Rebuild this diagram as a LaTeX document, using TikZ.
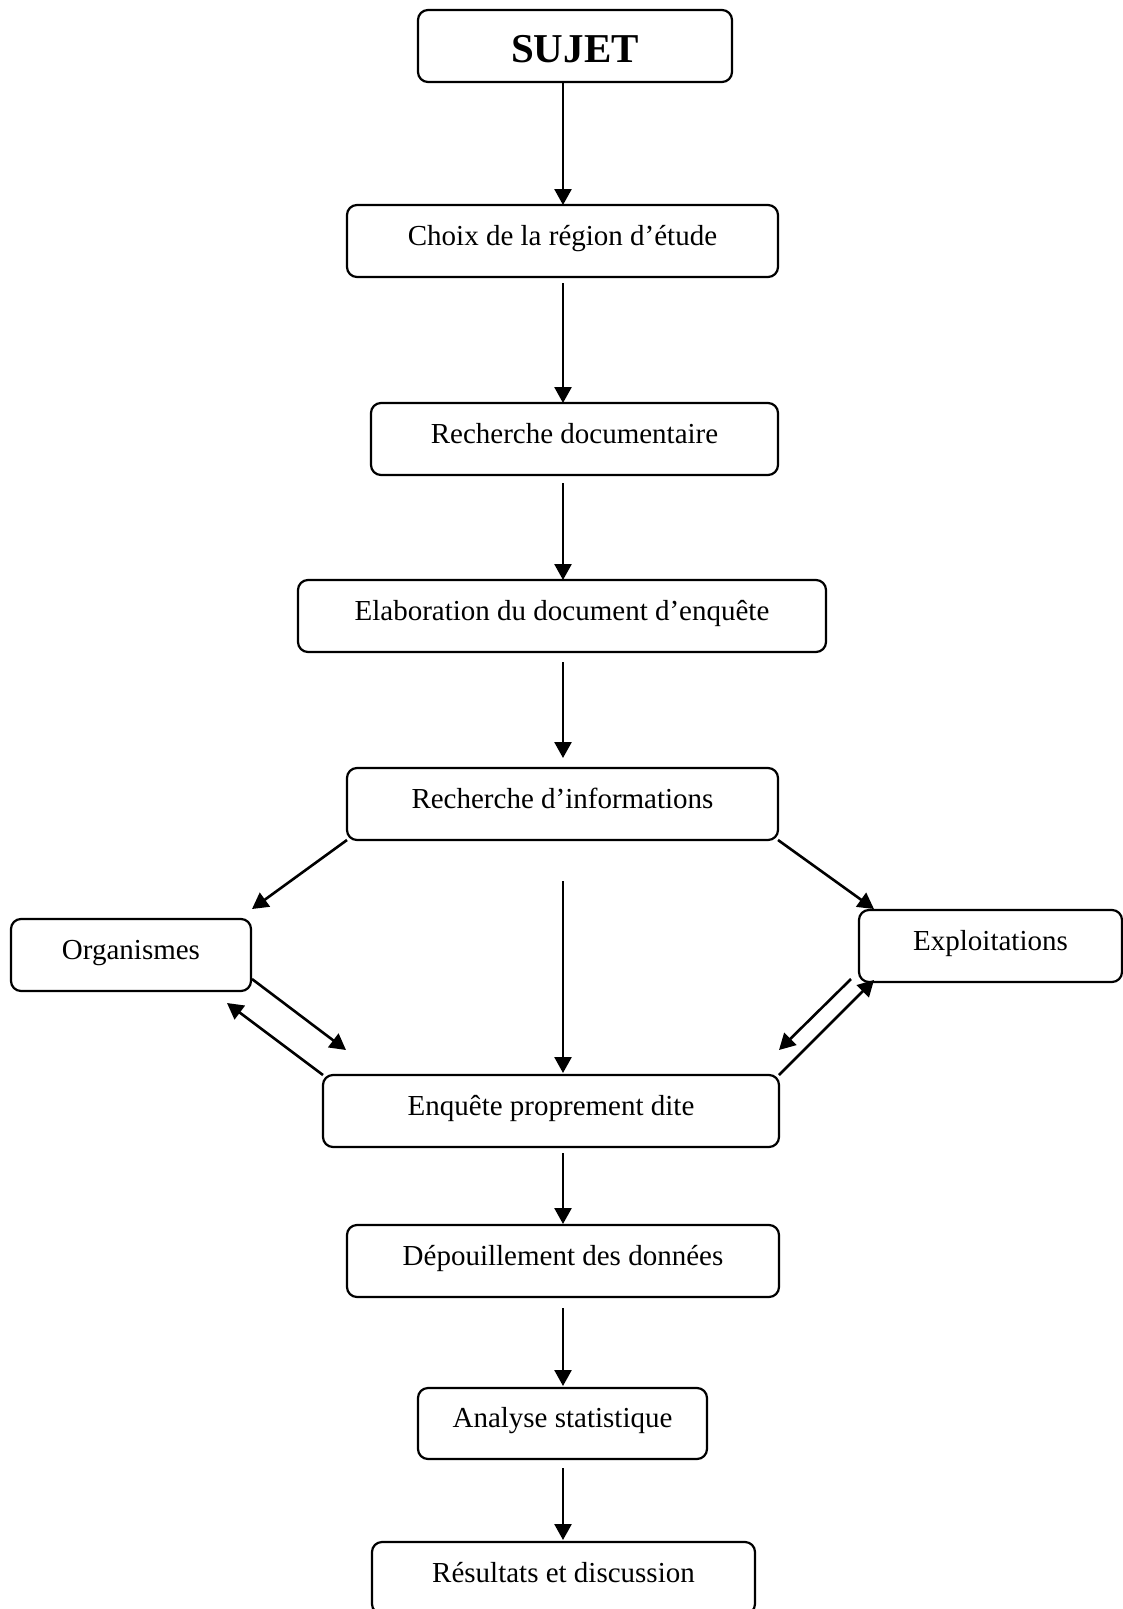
\documentclass[tikz,border=0pt]{standalone}
\usepackage{fontspec}
\setmainfont{Liberation Serif}
\usetikzlibrary{arrows.meta}
\begin{document}
\begin{tikzpicture}[x=1pt,y=-1pt,
  box/.style={draw,line width=2.2pt,rounded corners=10pt,inner sep=0pt,outer sep=0pt,
    minimum height=72pt,text height=20pt,text depth=12pt,
    font=\fontsize{29}{34}\selectfont},
  arr/.style={line width=2.6pt,-{Triangle[length=16pt,width=17pt]}}]
\clip (0,0) rectangle (1123,1609);
\useasboundingbox (0,0) rectangle (1123,1609);
\coordinate (axis) at (563,0);
\node[box,minimum width=314pt,text height=32pt,text depth=0pt,
  font=\fontsize{41}{46}\selectfont\bfseries] (sujet) at (575,46) {SUJET};
\node[box,minimum width=431pt] (choix) at (562.5,241) {Choix de la région d’étude};
\node[box,minimum width=407pt] (recdoc) at (574.5,439) {Recherche documentaire};
\node[box,minimum width=528pt] (elab) at (562,616) {Elaboration du document d’enquête};
\node[box,minimum width=431pt] (recinfo) at (562.5,804) {Recherche d’informations};
\node[box,minimum width=240pt] (org) at (131,955) {Organismes};
\node[box,minimum width=263pt] (expl) at (990.5,946) {Exploitations};
\node[box,minimum width=456pt] (enq) at (551,1111) {Enquête proprement dite};
\node[box,minimum width=432pt] (dep) at (563,1261) {Dépouillement des données};
\node[box,minimum width=289pt,minimum height=71pt] (ana) at (562.5,1423.5) {Analyse statistique};
\node[box,minimum width=383pt] (res) at (563.5,1578) {Résultats et discussion};

\draw[arr] (axis |- sujet.south) -- (axis |- choix.north);
\draw[arr] ([yshift=-6pt]axis |- choix.south) -- (axis |- recdoc.north);
\draw[arr] ([yshift=-8pt]axis |- recdoc.south) -- (axis |- elab.north);
\draw[arr] ([yshift=-10pt]axis |- elab.south) -- ([yshift=10pt]axis |- recinfo.north);
\draw[arr] ([yshift=-41pt]axis |- recinfo.south) -- ([yshift=2pt]axis |- enq.north);
\draw[arr] ([yshift=-6pt]axis |- enq.south) -- ([yshift=1pt]axis |- dep.north);
\draw[arr] ([yshift=-11pt]axis |- dep.south) -- ([yshift=2pt]axis |- ana.north);
\draw[arr] ([yshift=-9pt]axis |- ana.south) -- ([yshift=2pt]axis |- res.north);

\draw[arr] (recinfo.south west) -- ([shift={(1pt,10pt)}]org.north east);
\draw[arr] (recinfo.south east) -- ([shift={(15pt,1pt)}]expl.north west);
\draw[arr] ([shift={(1pt,12pt)}]org.south east) -- ([shift={(23pt,25pt)}]enq.north west);
\draw[arr] (enq.north west) -- ([shift={(-24pt,-12pt)}]org.south east);
\draw[arr] ([shift={(-8pt,3pt)}]expl.south west) -- ([shift={(0pt,25pt)}]enq.north east);
\draw[arr] (enq.north east) -- ([shift={(15pt,2pt)}]expl.south west);
\end{tikzpicture}
\end{document}
